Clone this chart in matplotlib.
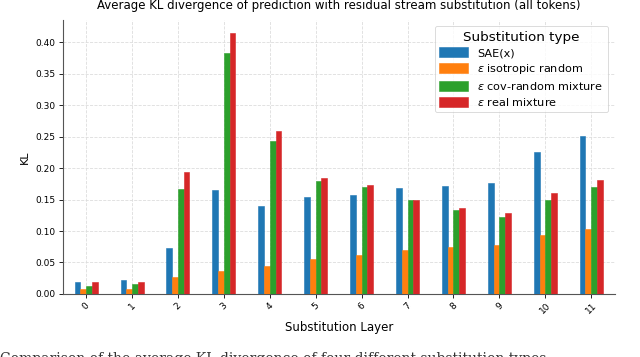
import matplotlib
matplotlib.use("Agg")
import matplotlib.pyplot as plt
import numpy as np

layers = [str(i) for i in range(12)]
series_names = ["SAE(x)", r"$\epsilon$ isotropic random", r"$\epsilon$ cov-random mixture", r"$\epsilon$ real mixture"]
sae = [0.019, 0.022, 0.0735, 0.1656, 0.139, 0.1545, 0.157, 0.168, 0.171, 0.176, 0.225, 0.2508]
iso = [0.008, 0.008, 0.027, 0.0365, 0.045, 0.056, 0.062, 0.070, 0.0746, 0.077, 0.0937, 0.1026]
covmix = [0.0127, 0.016, 0.1667, 0.383, 0.243, 0.180, 0.170, 0.1487, 0.1333, 0.1228, 0.1487, 0.1693]
realmix = [0.019, 0.0185, 0.194, 0.414, 0.2587, 0.1847, 0.173, 0.150, 0.136, 0.129, 0.1598, 0.1804]
colors = ["#1f77b4", "#ff7f0e", "#2ca02c", "#d62728"]

fig = plt.figure(figsize=(6.4, 3.57), dpi=100)
ax = fig.add_axes([0.098, 0.1765, 0.863, 0.7675])

x = np.arange(len(layers))
w = 0.125
for i, (vals, name, c) in enumerate(zip([sae, iso, covmix, realmix], series_names, colors)):
    ax.bar(x + (i - 1.5) * w, vals, width=w, color=c, label=name,
           edgecolor=c, linewidth=0.4, zorder=3)

ax.set_xlim(-0.51, 11.52)
ax.set_ylim(0, 0.435)
yt = np.arange(0, 0.401, 0.05)
ax.set_yticks(yt)
ax.set_yticklabels([f"{v:.2f}" for v in yt], fontsize=6.5)
ax.set_xticks(x)
ax.set_xticklabels(layers, rotation=45, fontsize=6.5)
ax.tick_params(axis="both", length=3, width=0.6, pad=2)
ax.grid(True, linestyle="--", color="#dddddd", linewidth=0.6, zorder=0)
ax.spines["top"].set_visible(False)
ax.spines["right"].set_visible(False)
ax.spines["left"].set_color("#555555")
ax.spines["bottom"].set_color("#555555")
ax.set_xlabel("Substitution Layer", fontsize=8.5, labelpad=4)
ax.set_ylabel("KL", fontsize=8, labelpad=4)
ax.set_title("Average KL divergence of prediction with residual stream substitution (all tokens)",
             fontsize=8.5, pad=8)

leg = ax.legend(title="Substitution type", fontsize=8.1, title_fontsize=9.7,
                loc="upper right", bbox_to_anchor=(0.987, 0.978), frameon=True,
                handlelength=2.6, handleheight=0.9, labelspacing=0.35, borderpad=0.4,
                borderaxespad=0.0)
leg.get_frame().set_edgecolor("#cccccc")
leg.get_frame().set_linewidth(0.6)

fig.text(0.0, 0.014, "Comparison of the average KL divergence of four different substitution types",
         fontsize=10, family="DejaVu Serif", va="top", ha="left", color="#333333")

fig.savefig("out.png", dpi=100)
